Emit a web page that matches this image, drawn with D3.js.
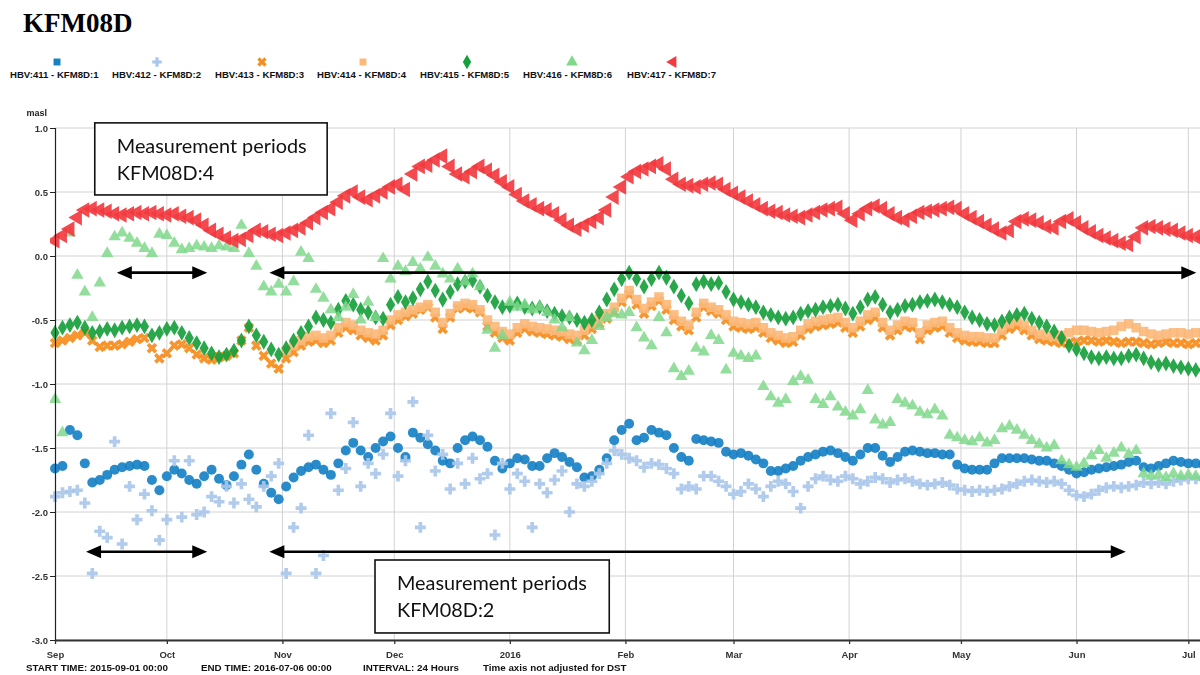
<!DOCTYPE html>
<html><head><meta charset="utf-8">
<script src="https://cdn.jsdelivr.net/npm/d3@7"></script>
<style>body{margin:0;background:#fff}svg{display:block}</style>
</head><body>
<svg id="chart" width="1200" height="675"></svg>
<script>
// ---------------- DATA ----------------
const titleText = "KFM08D";
const startDate = "2015-09-01";
const endDate = "2016-07-06";
const stepDays = 2; // one reading every 2 days
const seriesNames = ["HBV:411 - KFM8D:1","HBV:412 - KFM8D:2","HBV:413 - KFM8D:3","HBV:414 - KFM8D:4","HBV:415 - KFM8D:5","HBV:416 - KFM8D:6","HBV:417 - KFM8D:7"];

const s1 = [-1.66,-1.64,-1.36,-1.40,-1.62,-1.77,-1.75,-1.71,-1.67,-1.65,
-1.64,-1.63,-1.64,-1.75,-1.83,-1.72,-1.67,-1.70,-1.75,-1.78,
-1.72,-1.67,-1.74,-1.79,-1.72,-1.63,-1.55,-1.67,-1.78,-1.85,
-1.90,-1.80,-1.73,-1.68,-1.65,-1.63,-1.67,-1.71,-1.62,-1.52,
-1.46,-1.52,-1.57,-1.50,-1.45,-1.41,-1.50,-1.57,-1.38,-1.42,
-1.47,-1.52,-1.60,-1.62,-1.50,-1.44,-1.41,-1.44,-1.49,-1.60,
-1.66,-1.62,-1.58,-1.59,-1.64,-1.64,-1.58,-1.54,-1.57,-1.61,
-1.65,-1.73,-1.72,-1.67,-1.58,-1.44,-1.36,-1.31,-1.44,-1.42,
-1.36,-1.38,-1.40,-1.50,-1.57,-1.60,-1.43,-1.44,-1.45,-1.46,
-1.53,-1.55,-1.54,-1.56,-1.59,-1.62,-1.68,-1.68,-1.66,-1.64,
-1.60,-1.57,-1.55,-1.53,-1.52,-1.54,-1.57,-1.60,-1.55,-1.50,
-1.50,-1.56,-1.61,-1.57,-1.53,-1.52,-1.53,-1.54,-1.54,-1.55,
-1.55,-1.63,-1.66,-1.67,-1.67,-1.67,-1.62,-1.58,-1.58,-1.58,
-1.58,-1.59,-1.60,-1.60,-1.62,-1.64,-1.67,-1.70,-1.69,-1.67,
-1.66,-1.65,-1.64,-1.63,-1.61,-1.60,-1.65,-1.66,-1.64,-1.62,
-1.60,-1.61,-1.62,-1.62,-1.63];

const s2 = [-1.88,-1.85,-1.84,-1.83,-1.93,-2.48,-2.15,-2.20,-1.45,-2.25,
-1.80,-2.06,-1.86,-1.99,-2.22,-2.06,-1.60,-2.04,-1.60,-2.02,
-2.00,-1.88,-1.92,-1.80,-1.93,-1.78,-1.90,-1.96,-1.80,-1.72,
-1.62,-2.48,-2.12,-1.97,-1.40,-2.48,-2.34,-1.23,-1.83,-1.66,
-1.30,-1.80,-1.62,-1.70,-1.55,-1.23,-1.72,-1.60,-1.14,-2.12,
-1.40,-1.68,-1.55,-1.82,-1.62,-1.78,-1.58,-1.74,-1.70,-2.18,
-1.62,-1.82,-1.70,-1.76,-2.12,-1.78,-1.85,-1.75,-1.68,-2.00,
-1.78,-1.80,-1.76,-1.70,-1.62,-1.52,-1.55,-1.58,-1.60,-1.65,
-1.62,-1.63,-1.66,-1.70,-1.82,-1.80,-1.82,-1.72,-1.72,-1.76,
-1.80,-1.86,-1.84,-1.78,-1.82,-1.88,-1.80,-1.76,-1.78,-1.84,
-1.97,-1.80,-1.74,-1.72,-1.75,-1.76,-1.72,-1.74,-1.78,-1.76,
-1.73,-1.74,-1.77,-1.75,-1.74,-1.76,-1.78,-1.79,-1.78,-1.77,
-1.79,-1.82,-1.83,-1.84,-1.83,-1.84,-1.83,-1.82,-1.80,-1.78,
-1.76,-1.75,-1.76,-1.77,-1.76,-1.78,-1.83,-1.87,-1.88,-1.86,
-1.83,-1.81,-1.80,-1.81,-1.80,-1.79,-1.77,-1.78,-1.77,-1.78,
-1.76,-1.75,-1.74,-1.74,-1.73];

const s3 = [-0.68,-0.66,-0.64,-0.62,-0.60,-0.66,-0.71,-0.70,-0.70,-0.69,
-0.67,-0.65,-0.64,-0.72,-0.80,-0.76,-0.70,-0.69,-0.72,-0.77,
-0.80,-0.81,-0.79,-0.78,-0.76,-0.66,-0.56,-0.70,-0.78,-0.84,
-0.88,-0.80,-0.75,-0.70,-0.67,-0.66,-0.68,-0.66,-0.60,-0.56,
-0.58,-0.62,-0.64,-0.66,-0.62,-0.54,-0.50,-0.47,-0.45,-0.42,
-0.40,-0.48,-0.57,-0.48,-0.41,-0.40,-0.41,-0.44,-0.55,-0.60,
-0.64,-0.66,-0.60,-0.57,-0.59,-0.60,-0.61,-0.62,-0.63,-0.65,
-0.66,-0.62,-0.57,-0.53,-0.49,-0.44,-0.36,-0.30,-0.38,-0.45,
-0.39,-0.35,-0.42,-0.50,-0.55,-0.58,-0.48,-0.40,-0.43,-0.45,
-0.50,-0.55,-0.56,-0.57,-0.56,-0.60,-0.64,-0.66,-0.68,-0.67,
-0.62,-0.57,-0.55,-0.54,-0.53,-0.52,-0.56,-0.60,-0.55,-0.50,
-0.48,-0.56,-0.62,-0.58,-0.55,-0.56,-0.65,-0.58,-0.56,-0.55,
-0.60,-0.64,-0.66,-0.67,-0.67,-0.68,-0.68,-0.62,-0.57,-0.55,
-0.58,-0.62,-0.65,-0.66,-0.67,-0.68,-0.68,-0.67,-0.66,-0.66,
-0.67,-0.66,-0.67,-0.68,-0.67,-0.67,-0.68,-0.69,-0.68,-0.67,
-0.68,-0.68,-0.69,-0.68,-0.68];

const s4 = [null,null,null,null,null,null,null,null,null,null,
null,null,null,null,null,null,null,null,null,null,
null,null,null,null,null,null,null,null,null,null,
null,-0.74,-0.70,-0.66,-0.63,-0.62,-0.64,-0.62,-0.56,-0.52,
-0.54,-0.58,-0.60,-0.61,-0.58,-0.50,-0.46,-0.44,-0.42,-0.40,
-0.38,-0.44,-0.52,-0.45,-0.39,-0.37,-0.38,-0.42,-0.50,-0.55,
-0.59,-0.61,-0.56,-0.53,-0.55,-0.56,-0.57,-0.58,-0.59,-0.61,
-0.62,-0.58,-0.53,-0.49,-0.45,-0.40,-0.33,-0.27,-0.34,-0.41,
-0.36,-0.32,-0.38,-0.46,-0.51,-0.54,-0.44,-0.37,-0.40,-0.42,
-0.46,-0.51,-0.52,-0.53,-0.52,-0.56,-0.60,-0.62,-0.64,-0.63,
-0.58,-0.53,-0.51,-0.50,-0.49,-0.48,-0.52,-0.56,-0.51,-0.46,
-0.44,-0.52,-0.58,-0.54,-0.51,-0.52,-0.60,-0.54,-0.52,-0.51,
-0.56,-0.60,-0.62,-0.63,-0.63,-0.64,-0.64,-0.58,-0.53,-0.51,
-0.54,-0.58,-0.61,-0.62,-0.63,-0.62,-0.60,-0.58,-0.58,-0.59,
-0.60,-0.59,-0.58,-0.55,-0.53,-0.56,-0.59,-0.61,-0.62,-0.61,
-0.60,-0.60,-0.61,-0.60,-0.60];

const s5 = [-0.60,-0.56,-0.54,-0.52,-0.56,-0.60,-0.59,-0.57,-0.58,-0.56,
-0.55,-0.54,-0.55,-0.62,-0.60,-0.57,-0.56,-0.60,-0.64,-0.68,
-0.72,-0.76,-0.79,-0.77,-0.74,-0.66,-0.55,-0.62,-0.67,-0.73,
-0.77,-0.72,-0.66,-0.60,-0.55,-0.48,-0.50,-0.52,-0.42,-0.35,
-0.38,-0.42,-0.44,-0.48,-0.49,-0.38,-0.32,-0.36,-0.33,-0.26,
-0.20,-0.27,-0.34,-0.28,-0.22,-0.20,-0.19,-0.24,-0.31,-0.36,
-0.40,-0.39,-0.37,-0.40,-0.41,-0.40,-0.43,-0.45,-0.47,-0.48,
-0.50,-0.52,-0.50,-0.44,-0.34,-0.26,-0.18,-0.13,-0.18,-0.24,
-0.18,-0.13,-0.17,-0.24,-0.31,-0.37,-0.22,-0.20,-0.22,-0.21,
-0.28,-0.34,-0.36,-0.38,-0.40,-0.44,-0.46,-0.48,-0.49,-0.48,
-0.45,-0.43,-0.42,-0.40,-0.39,-0.38,-0.41,-0.45,-0.40,-0.34,
-0.32,-0.38,-0.44,-0.42,-0.39,-0.38,-0.36,-0.35,-0.34,-0.36,
-0.38,-0.40,-0.44,-0.48,-0.50,-0.53,-0.54,-0.51,-0.48,-0.46,
-0.45,-0.49,-0.52,-0.55,-0.59,-0.64,-0.70,-0.73,-0.76,-0.79,
-0.80,-0.79,-0.80,-0.80,-0.78,-0.77,-0.80,-0.83,-0.85,-0.84,
-0.86,-0.87,-0.88,-0.89,-0.89];

const s6 = [-1.12,-1.38,0.18,-0.15,-0.28,-0.48,-0.21,0.02,0.15,0.18,
0.14,0.10,0.06,0.02,0.17,0.16,0.10,0.05,0.06,0.08,
0.07,0.06,0.08,0.07,0.06,0.24,0.02,-0.08,-0.24,-0.28,
-0.22,-0.28,-0.20,0.03,-0.02,-0.26,-0.33,-0.42,-0.48,-0.40,
-0.30,-0.50,-0.36,-0.48,-0.02,-0.18,-0.08,-0.12,-0.05,-0.10,
-0.01,-0.08,-0.14,-0.18,-0.10,-0.20,-0.14,-0.24,-0.58,-0.72,
-0.62,-0.36,-0.40,-0.38,-0.42,-0.40,-0.44,-0.50,-0.56,-0.48,
-0.68,-0.74,-0.66,-0.55,-0.48,-0.45,-0.46,-0.44,-0.56,-0.64,
-0.70,-0.48,-0.60,-0.88,-0.94,-0.90,-0.72,-0.75,-0.62,-0.66,
-0.89,-0.76,-0.78,-0.80,-0.78,-1.02,-1.10,-1.15,-1.12,-0.98,
-0.94,-0.97,-1.12,-1.16,-1.10,-1.18,-1.22,-1.25,-1.20,-1.05,
-1.28,-1.32,-1.30,-1.12,-1.15,-1.17,-1.22,-1.24,-1.20,-1.25,
-1.40,-1.42,-1.44,-1.45,-1.42,-1.46,-1.44,-1.35,-1.33,-1.36,
-1.40,-1.44,-1.47,-1.50,-1.48,-1.60,-1.63,-1.65,-1.62,-1.56,
-1.52,-1.58,-1.54,-1.50,-1.55,-1.52,-1.70,-1.72,-1.71,-1.73,
-1.70,-1.72,-1.71,-1.72,-1.73];

const s7 = [0.12,0.16,0.21,0.30,0.36,0.37,0.36,0.35,0.33,0.32,
0.33,0.34,0.33,0.34,0.33,0.32,0.33,0.31,0.30,0.28,
0.24,0.20,0.17,0.14,0.12,0.13,0.16,0.20,0.19,0.17,
0.16,0.18,0.20,0.22,0.26,0.30,0.34,0.37,0.42,0.47,
0.50,0.46,0.44,0.47,0.50,0.54,0.56,0.52,0.64,0.70,
0.71,0.75,0.78,0.70,0.64,0.62,0.66,0.70,0.67,0.63,
0.58,0.54,0.48,0.43,0.40,0.37,0.36,0.33,0.28,0.24,
0.21,0.24,0.27,0.30,0.36,0.46,0.54,0.62,0.66,0.68,
0.70,0.72,0.68,0.60,0.56,0.55,0.54,0.56,0.57,0.56,
0.52,0.49,0.46,0.43,0.40,0.37,0.35,0.34,0.32,0.31,
0.30,0.32,0.34,0.36,0.37,0.38,0.33,0.28,0.33,0.37,
0.39,0.37,0.33,0.30,0.28,0.31,0.34,0.35,0.36,0.37,
0.38,0.37,0.33,0.30,0.27,0.24,0.21,0.18,0.20,0.27,
0.29,0.28,0.26,0.23,0.22,0.27,0.29,0.26,0.22,0.19,
0.16,0.14,0.12,0.10,0.09,0.15,0.22,0.23,0.22,0.21,
0.20,0.18,0.16,0.15,0.14];

const seriesValues = [s1, s2, s3, s4, s5, s6, s7];

const monthTickDates = ["2015-09-01","2015-10-01","2015-11-01","2015-12-01","2016-01-01","2016-02-01","2016-03-01","2016-04-01","2016-05-01","2016-06-01","2016-07-01"];
const monthTickLabels = ["Sep","Oct","Nov","Dec","2016","Feb","Mar","Apr","May","Jun","Jul"];
const yTickValues = [1.0, 0.5, 0.0, -0.5, -1.0, -1.5, -2.0, -2.5, -3.0];
const yAxisTitle = "masl";
const footerTexts = ["START TIME: 2015-09-01 00:00", "END TIME: 2016-07-06 00:00", "INTERVAL: 24 Hours", "Time axis not adjusted for DST"];

// annotation arrows: measurement periods (date ranges)
const arrowStarts = ["2015-09-17T14:00", "2015-10-28T12:00", "2015-09-09T08:00", "2015-10-28T12:00"];
const arrowEnds   = ["2015-10-11T20:00", "2016-07-03T03:00", "2015-10-11T20:00", "2016-06-14T05:00"];
const arrowLevels = [-0.13, -0.13, -2.31, -2.31];
// annotation boxes
const boxStarts = ["2015-09-11T16:00", "2015-11-25T20:00"];
const boxEnds   = ["2015-11-13T00:00", "2016-01-27T16:00"];
const boxTops   = [1.04, -2.375];
const boxBottoms= [0.477, -2.945];
const boxLines  = [["Measurement periods","KFM08D:4"], ["Measurement periods","KFM08D:2"]];

// ---------------- STYLE ----------------
const styles = [
  {color:"#1681c4", symbol:d3.symbolCircle,   size:78, rot:0,   legend:d3.symbolSquare, lsize:48},
  {color:"#a9c7ea", symbol:d3.symbolCross,    size:66, rot:0,   legend:d3.symbolCross, lsize:50},
  {color:"#f68d1f", symbol:d3.symbolCross,    size:70, rot:45,  legend:d3.symbolCross, lsize:55},
  {color:"#fbb879", symbol:d3.symbolSquare,   size:90, rot:0,   legend:d3.symbolSquare, lsize:48},
  {color:"#14a03b", symbol:d3.symbolDiamond,  size:72, rot:0,   legend:d3.symbolDiamond, lsize:60},
  {color:"#80d88b", symbol:d3.symbolTriangle, size:66, rot:0,   legend:d3.symbolTriangle, lsize:60},
  {color:"#f23a3f", symbol:d3.symbolTriangle, size:105, rot:-90, legend:d3.symbolTriangle, lsize:60}
];
const legendTextX = [10, 112, 215, 317, 420, 523, 627];
const legendMarkX = [57, 157, 262, 363, 467, 572, 673];
const footerX = [26, 201, 363, 483];

// ---------------- DRAW ----------------
const svg = d3.select("#chart");
const parseT = s => new Date(s.length > 10 ? s + "Z" : s + "T00:00Z");
const t0 = parseT(startDate), t1 = parseT(endDate);
const x = d3.scaleUtc().domain([t0, t1]).range([55, 1207]);
const y = d3.scaleLinear().domain([-3, 1]).range([640, 128]);
const sans = "'Liberation Sans', Arial, sans-serif";

const defs = svg.append("defs");
defs.append("filter").attr("id", "soft").attr("x", "-5%").attr("y", "-5%").attr("width", "110%").attr("height", "110%")
  .append("feGaussianBlur").attr("stdDeviation", 0.55);

// title
svg.append("text").attr("x", 23).attr("y", 32).text(titleText)
  .style("font-family", "'Liberation Serif', 'Times New Roman', serif")
  .style("font-weight", "bold").style("font-size", "27px").attr("fill", "#000");

// legend
seriesNames.forEach((n, i) => {
  const st = styles[i];
  svg.append("path")
    .attr("d", d3.symbol().type(st.legend).size(st.lsize)())
    .attr("transform", `translate(${legendMarkX[i]},62) rotate(${st.rot})`)
    .attr("fill", st.color);
  svg.append("text").attr("x", legendTextX[i]).attr("y", 78).text(n)
    .style("font-family", sans).style("font-weight", "bold").style("font-size", "9.6px").attr("fill", "#111");
});

// grid
const grid = svg.append("g");
monthTickDates.slice(1).forEach(d => {
  const xx = x(parseT(d));
  grid.append("line").attr("x1", xx).attr("x2", xx).attr("y1", y(1)).attr("y2", y(-3))
    .attr("stroke", "#d2d2d2").attr("stroke-width", 1);
});
yTickValues.forEach(v => {
  grid.append("line").attr("x1", 55).attr("x2", 1207).attr("y1", y(v)).attr("y2", y(v))
    .attr("stroke", "#d2d2d2").attr("stroke-width", 1);
});

// clip
defs.append("clipPath").attr("id", "plotclip")
  .append("rect").attr("x", 50).attr("y", 115).attr("width", 1160).attr("height", 528);

const plot = svg.append("g").attr("clip-path", "url(#plotclip)").append("g").attr("filter", "url(#soft)");
seriesValues.forEach((vals, si) => {
  const st = styles[si];
  const pts = vals.map((v, i) => ({t: d3.utcDay.offset(t0, i * stepDays), v})).filter(d => d.v !== null);
  plot.append("g").selectAll("path").data(pts).join("path")
    .attr("d", d3.symbol().type(st.symbol).size(st.size)())
    .attr("transform", d => `translate(${x(d.t)},${y(d.v)}) rotate(${st.rot})`)
    .attr("fill", st.color).attr("fill-opacity", si === 5 ? 0.85 : 0.92);
});

// axes
const yAxis = svg.append("g").attr("transform", "translate(55,0)")
  .call(d3.axisLeft(y).tickValues(yTickValues).tickFormat(d => d.toFixed(1)).tickSize(5).tickPadding(2));
yAxis.select(".domain").attr("stroke", "#222").attr("stroke-width", 1.2);
yAxis.selectAll(".tick line").attr("stroke", "#222");
yAxis.selectAll("text").style("font-family", sans).style("font-weight", "bold").style("font-size", "9.5px").attr("fill", "#333");
svg.append("text").attr("x", 47).attr("y", 116).attr("text-anchor", "end").text(yAxisTitle)
  .style("font-family", sans).style("font-weight", "bold").style("font-size", "9px").attr("fill", "#222");

const xAxis = svg.append("g").attr("transform", "translate(0,640)")
  .call(d3.axisBottom(x).tickValues(monthTickDates.map(parseT)).tickFormat((d, i) => monthTickLabels[i]).tickSize(4).tickSizeOuter(0));
xAxis.select(".domain").attr("stroke", "#333").attr("stroke-width", 1.8);
xAxis.selectAll(".tick line").attr("stroke", "#333").attr("stroke-width", 1.3);
xAxis.selectAll("text").attr("y", 11).style("font-family", sans).style("font-weight", "bold").style("font-size", "9.5px").attr("fill", "#333");

// footer
footerTexts.forEach((t, i) => {
  svg.append("text").attr("x", footerX[i]).attr("y", 671).text(t)
    .style("font-family", sans).style("font-weight", "bold").style("font-size", "9.8px").attr("fill", "#111");
});

// annotation arrows
const ann = svg.append("g");
function arrowHead(tipX, yy, dir) {
  const L = 15, H = 6.5;
  ann.append("path").attr("d", `M${tipX},${yy} L${tipX - dir * L},${yy - H} L${tipX - dir * L},${yy + H} Z`).attr("fill", "#000");
}
arrowStarts.forEach((s, i) => {
  const xa = x(parseT(s)), xb = x(parseT(arrowEnds[i])), yy = y(arrowLevels[i]);
  ann.append("line").attr("x1", xa + 8).attr("x2", xb - 8).attr("y1", yy).attr("y2", yy)
    .attr("stroke", "#000").attr("stroke-width", 2.6);
  arrowHead(xa, yy, -1);
  arrowHead(xb, yy, 1);
});

// annotation boxes
boxStarts.forEach((s, i) => {
  const xa = x(parseT(s)), xb = x(parseT(boxEnds[i])), ya = y(boxTops[i]), yb = y(boxBottoms[i]);
  ann.append("rect").attr("x", xa).attr("y", ya).attr("width", xb - xa).attr("height", yb - ya)
    .attr("fill", "#fff").attr("stroke", "#111").attr("stroke-width", 1.6);
  let fs = 19;
  boxLines[i].forEach((ln, j) => {
    const tx = ann.append("text").attr("x", xa + 22).attr("y", ya + 30 + j * 27).text(ln)
      .style("font-family", "Lato, 'Open Sans', sans-serif").style("font-size", "19px").attr("fill", "#111");
    if (j === 0) {
      const w = tx.node().getComputedTextLength();
      fs = 19 * 190 / w;
    }
    tx.style("font-size", fs + "px");
  });
});
</script>
</body></html>
